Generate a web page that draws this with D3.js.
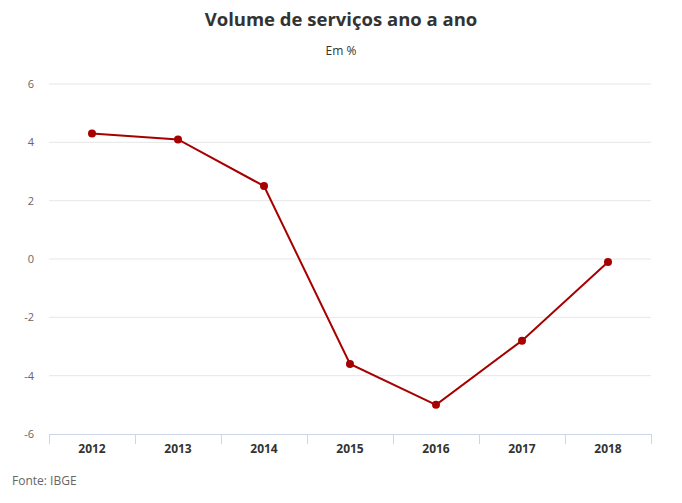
<!DOCTYPE html>
<html>
<head>
<meta charset="utf-8">
<script src="https://cdn.jsdelivr.net/npm/d3@7"></script>
<style>
  body { margin: 0; background: #fff; }
  svg { font-family: "Open Sans", sans-serif; }
</style>
</head>
<body>
<svg id="chart"></svg>
<script>
const years = ['2012', '2013', '2014', '2015', '2016', '2017', '2018'];
const volume = [4.3, 4.1, 2.5, -3.6, -5.0, -2.8, -0.1];
const yTicks = [-6, -4, -2, 0, 2, 4, 6];

const width = 682, height = 503;
const margin = { top: 84, right: 31, bottom: 69, left: 49 };

const svg = d3.select('#chart')
  .attr('width', width)
  .attr('height', height);

const x = d3.scaleBand()
  .domain(years)
  .range([margin.left, width - margin.right]);

const y = d3.scaleLinear()
  .domain([-6, 6])
  .range([height - margin.bottom, margin.top]);

// title
svg.append('text')
  .attr('x', width / 2)
  .attr('y', 26)
  .attr('text-anchor', 'middle')
  .style('font-size', '18.5px')
  .style('font-weight', 'bold')
  .style('fill', '#333')
  .text('Volume de serviços ano a ano');

svg.append('text')
  .attr('x', width / 2)
  .attr('y', 55)
  .attr('text-anchor', 'middle')
  .style('font-size', '12px')
  .style('fill', '#333')
  .text('Em %');

// gridlines
svg.append('g')
  .selectAll('line')
  .data(yTicks.filter(d => d !== -6))
  .join('line')
  .attr('x1', margin.left)
  .attr('x2', width - margin.right)
  .attr('y1', d => y(d))
  .attr('y2', d => y(d))
  .style('stroke', '#e6e6e6')
  .style('stroke-width', 1);

// y labels
svg.append('g')
  .selectAll('text')
  .data(yTicks)
  .join('text')
  .attr('x', 34)
  .attr('y', d => y(d) + 4)
  .attr('text-anchor', 'end')
  .style('font-size', '11px')
  .style('fill', '#666')
  .text(d => d);

// x axis
const xAxis = svg.append('g')
  .attr('transform', `translate(0,${y(-6)})`)
  .call(d3.axisBottom(x).tickSize(0).tickPadding(10));
xAxis.select('.domain').style('stroke', '#ccd6eb');
xAxis.selectAll('text')
  .style('font-family', '"Open Sans", sans-serif')
  .style('font-size', '12px')
  .style('font-weight', 'bold')
  .style('fill', '#333');

// ticks at category boundaries
const bounds = years.map(d => x(d)).concat([x(years[years.length - 1]) + x.bandwidth()]);
xAxis.selectAll('.bound')
  .data(bounds)
  .join('line')
  .attr('class', 'bound')
  .attr('x1', d => d + 0.5)
  .attr('x2', d => d + 0.5)
  .attr('y1', 0)
  .attr('y2', 10)
  .style('stroke', '#ccd6eb');

// line
const cx = d => x(d) + x.bandwidth() / 2;
const line = d3.line()
  .x((d, i) => cx(years[i]))
  .y(d => y(d));

svg.append('path')
  .datum(volume)
  .attr('d', line)
  .style('fill', 'none')
  .style('stroke', '#a80000')
  .style('stroke-width', 2);

svg.append('g')
  .selectAll('circle')
  .data(volume)
  .join('circle')
  .attr('cx', (d, i) => cx(years[i]))
  .attr('cy', d => y(d))
  .attr('r', 4)
  .style('fill', '#a80000');

// source
svg.append('text')
  .attr('x', 12)
  .attr('y', 485)
  .style('font-size', '12px')
  .style('fill', '#666')
  .text('Fonte: IBGE');
</script>
</body>
</html>
